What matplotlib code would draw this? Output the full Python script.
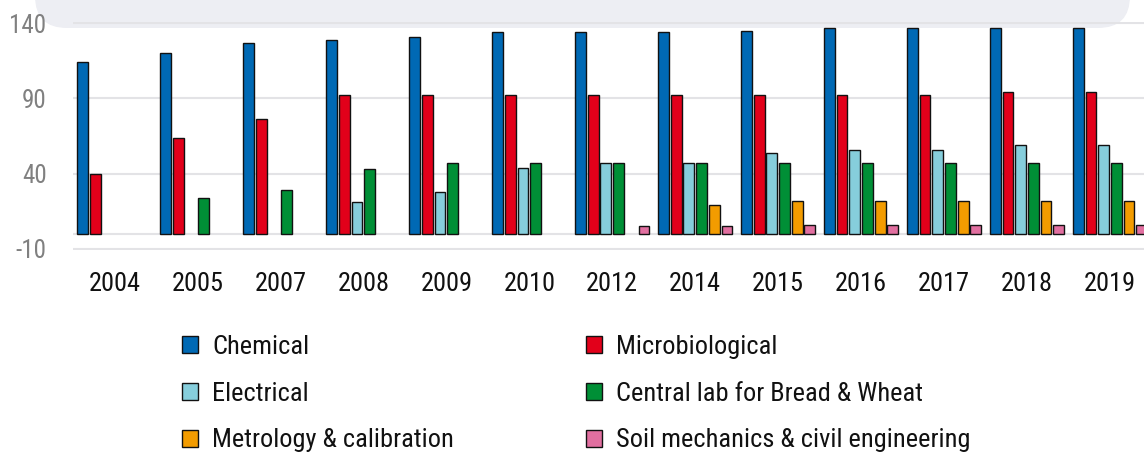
import numpy as np
import matplotlib
matplotlib.use("Agg")
import matplotlib.pyplot as plt
from matplotlib.patches import FancyBboxPatch, Patch

plt.rcParams['font.family'] = ['Roboto Condensed', 'DejaVu Sans']
plt.rcParams['axes.unicode_minus'] = False

# data
years = ['2004', '2005', '2007', '2008', '2009', '2010', '2012',
         '2014', '2015', '2016', '2017', '2018', '2019']
nan = np.nan
chemical = [114, 120, 127, 129, 131, 134, 134, 134, 135, 137, 137, 137, 137]
microbio = [40, 64, 76, 92, 92, 92, 92, 92, 92, 92, 92, 94, 94]
electrical = [nan, nan, nan, 21, 28, 44, 47, 47, 54, 56, 56, 59, 59]
bread_wheat = [nan, 24, 29, 43, 47, 47, 47, 47, 47, 47, 47, 47, 47]
metrology = [nan, nan, nan, nan, nan, nan, nan, 19, 22, 22, 22, 22, 22]
soil = [nan, nan, nan, nan, nan, nan, 5, 5, 6, 6, 6, 6, 6]

series = [
    ('Chemical', chemical, '#0069B4'),
    ('Microbiological', microbio, '#E2001A'),
    ('Electrical', electrical, '#86CEDC'),
    ('Central lab for Bread & Wheat', bread_wheat, '#008F36'),
    ('Metrology & calibration', metrology, '#F39C00'),
    ('Soil mechanics & civil engineering', soil, '#E16FA0'),
]

W, H = 1144, 455
fig = plt.figure(figsize=(W / 100, H / 100), dpi=100, facecolor='white')

# light grey header box peeking in at the top
box = FancyBboxPatch((35, H - 28), 1095, 80,
                     boxstyle='round,pad=0,rounding_size=32',
                     transform=None, facecolor='#EDEEF3', edgecolor='none',
                     zorder=-1)
fig.patches.append(box)

ax = fig.add_axes([73 / W, 205.5 / H, 1 - 73 / W, 227.7 / H])
ax.patch.set_visible(False)

x = np.arange(len(years))
slot = 0.153
bw = 0.13
for i, (name, vals, col) in enumerate(series):
    v = np.array(vals, dtype=float)
    m = ~np.isnan(v)
    ax.bar(x[m] + (i - 2.5) * slot, v[m], width=bw, color=col,
           edgecolor='#111111', linewidth=1.0, zorder=3)

ax.set_xlim(-0.5, 12.41)
ax.set_ylim(-10.5, 141)
ax.set_yticks([-10, 40, 90, 140])
ax.set_xticks(x)
ax.set_xticklabels(years)
ax.grid(axis='y', color='#E3E3E6', linewidth=1.5, zorder=0)
ax.axhline(0, color='#E3E3E6', linewidth=1.5, zorder=1)
for s in ax.spines.values():
    s.set_visible(False)
ax.tick_params(axis='y', length=0, pad=19, labelsize=18, labelcolor='#808080')
ax.tick_params(axis='x', length=0, pad=16, labelsize=19, labelcolor='#111111')

handles = [Patch(facecolor=c, edgecolor='#111111', linewidth=1.0, label=n)
           for n, _, c in series]
common = dict(frameon=False, fontsize=19, handlelength=0.62, handleheight=0.62,
              handletextpad=0.52, labelspacing=0.86, borderpad=0,
              borderaxespad=0, loc='upper left')
leg1 = fig.legend(handles=handles[0::2], bbox_to_anchor=(182 / W, 1 - 335 / H),
                  **common)
leg2 = fig.legend(handles=handles[1::2], bbox_to_anchor=(586 / W, 1 - 335 / H),
                  **common)
for t in leg1.get_texts() + leg2.get_texts():
    t.set_color('#111111')

fig.savefig('out.png', dpi=100, facecolor='white')
